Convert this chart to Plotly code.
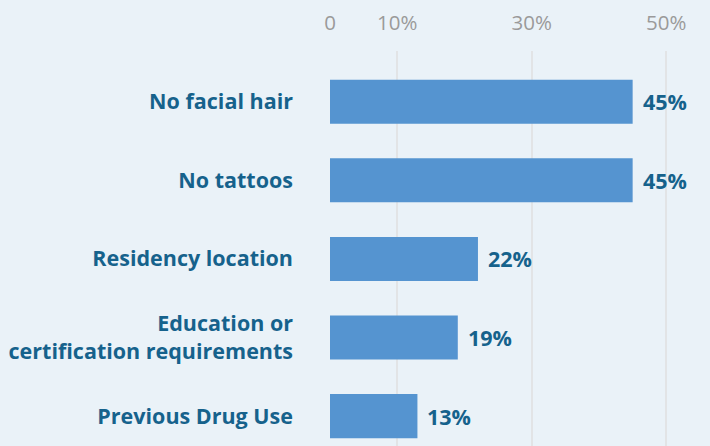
import plotly.graph_objects as go

# Share of respondents citing each requirement
categories = [
    "No facial hair",
    "No tattoos",
    "Residency location",
    "Education or<br>certification requirements",
    "Previous Drug Use",
]
values = [45, 45, 22, 19, 13]

tick_values = [0, 10, 30, 50]
tick_labels = ["0", "10%", "30%", "50%"]

BG = "#EAF2F8"
BAR = "#5594D0"
TEXT = "#16628C"
GRID = "#E2E4E6"
TICK = "#9A9A9A"
FONT = "Open Sans"

fig = go.Figure(
    go.Bar(
        x=values,
        y=categories,
        orientation="h",
        marker=dict(color=BAR, line=dict(width=0)),
        width=0.56,
        hoverinfo="skip",
    )
)

# value labels just past the end of each bar
for cat, v in zip(categories, values):
    fig.add_annotation(
        x=v, y=cat, text=f"<b>{v}%</b>", showarrow=False,
        xanchor="left", yanchor="middle", xshift=8,
        font=dict(family=FONT, size=21.5, color=TEXT),
    )

fig.update_layout(
    width=710, height=446,
    margin=dict(l=330, r=0, t=51, b=0),
    paper_bgcolor=BG, plot_bgcolor=BG,
    showlegend=False,
    bargap=0.44,
    xaxis=dict(
        side="top",
        range=[0, 56.5],
        tickvals=tick_values,
        ticktext=tick_labels,
        showgrid=True, gridcolor=GRID, gridwidth=2,
        zeroline=False, showline=False,
        ticks="", ticklabelstandoff=16,
        tickfont=dict(family=FONT, size=20.5, color=TICK),
        fixedrange=True,
    ),
    yaxis=dict(
        type="category",
        categoryorder="array", categoryarray=categories,
        range=[4.38, -0.645],
        showgrid=False, zeroline=False, showline=False,
        ticks="", ticklabelstandoff=36,
        tickfont=dict(family=FONT, size=21.5, color=TEXT, weight="bold"),
        fixedrange=True,
    ),
)

fig.write_html("out.html")
